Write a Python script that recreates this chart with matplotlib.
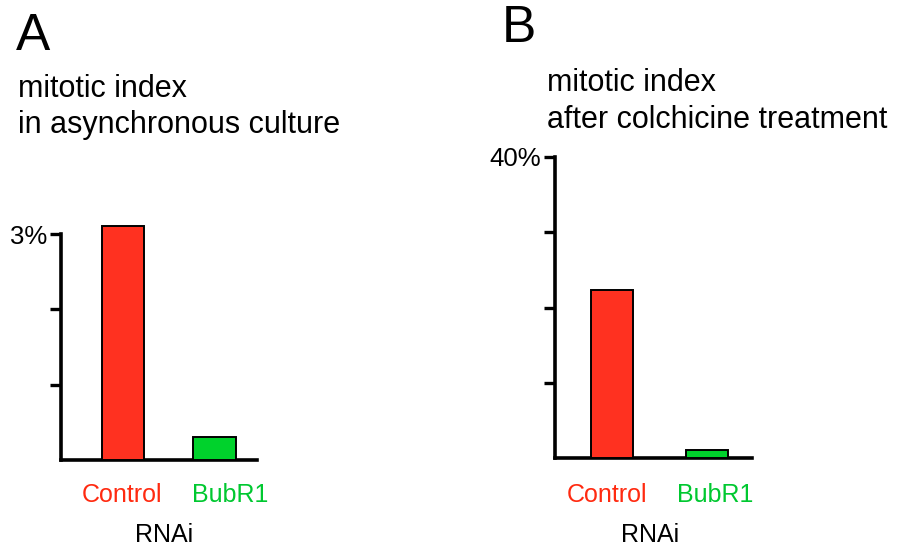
import matplotlib
matplotlib.use("Agg")
import matplotlib.pyplot as plt

plt.rcParams['font.family'] = ['Liberation Sans', 'DejaVu Sans']

# Dados
categorias = ["Control", "BubR1"]
cores = ["#ff3120", "#00d22c"]
cores_texto = ["#ff2a10", "#00c830"]

valores_a = [3.10, 0.30]    # % mitotic index, cultura assincrona
valores_b = [22.3, 1.1]     # % apos colchicina

ticks_a = [1, 2, 3]
ticks_b = [10, 20, 30, 40]
rotulos_a = ["", "", "3%"]
rotulos_b = ["", "", "", "40%"]

W, H = 908, 551
fig = plt.figure(figsize=(W / 100, H / 100), dpi=100)


def px(x, y):
    return x / W, 1 - y / H


def painel(left, top, right, bottom, valores, ymax, ticks, rotulos, xlim, largura):
    ax = fig.add_axes([left / W, 1 - bottom / H, (right - left) / W, (bottom - top) / H])
    barras = ax.bar(range(len(valores)), valores, width=largura, color=cores,
                    edgecolor="black", linewidth=1.4, zorder=3)
    for b in barras:
        b.set_clip_on(False)
    ax.set_xlim(*xlim)
    ax.set_ylim(0, ymax)
    ax.set_yticks(ticks)
    ax.set_yticklabels(rotulos, fontsize=18.5)
    ax.set_xticks([])
    ax.spines['top'].set_visible(False)
    ax.spines['right'].set_visible(False)
    ax.spines['left'].set_linewidth(2.6)
    ax.spines['bottom'].set_linewidth(2.6)
    ax.tick_params(axis='y', length=8, width=2.4, pad=2)
    return ax


painel(61, 234, 257, 460, valores_a, 3, ticks_a, rotulos_a, (-0.678, 1.464), 0.46)
painel(555, 157, 752, 458, valores_b, 40, ticks_b, rotulos_b, (-0.603, 1.481), 0.444)

# Letras dos paineis e titulos
fig.text(*px(16, 50), "A", fontsize=37, va="baseline", ha="left")
fig.text(*px(502, 42), "B", fontsize=37, va="baseline", ha="left")

fig.text(*px(18, 97), "mitotic index", fontsize=22, va="baseline")
fig.text(*px(18, 133), "in asynchronous culture", fontsize=22, va="baseline")
fig.text(*px(547, 91), "mitotic index", fontsize=22, va="baseline")
fig.text(*px(547, 128), "after colchicine treatment", fontsize=22, va="baseline")

# Rotulos das categorias
for xs, rnai_x in [((122, 230), 164), ((607, 715), 650)]:
    for x, nome, c in zip(xs, categorias, cores_texto):
        fig.text(*px(x, 502), nome, color=c, fontsize=18, ha="center", va="baseline")
    fig.text(*px(rnai_x, 542), "RNAi", fontsize=18, ha="center", va="baseline")

fig.savefig("out.png", dpi=100)
